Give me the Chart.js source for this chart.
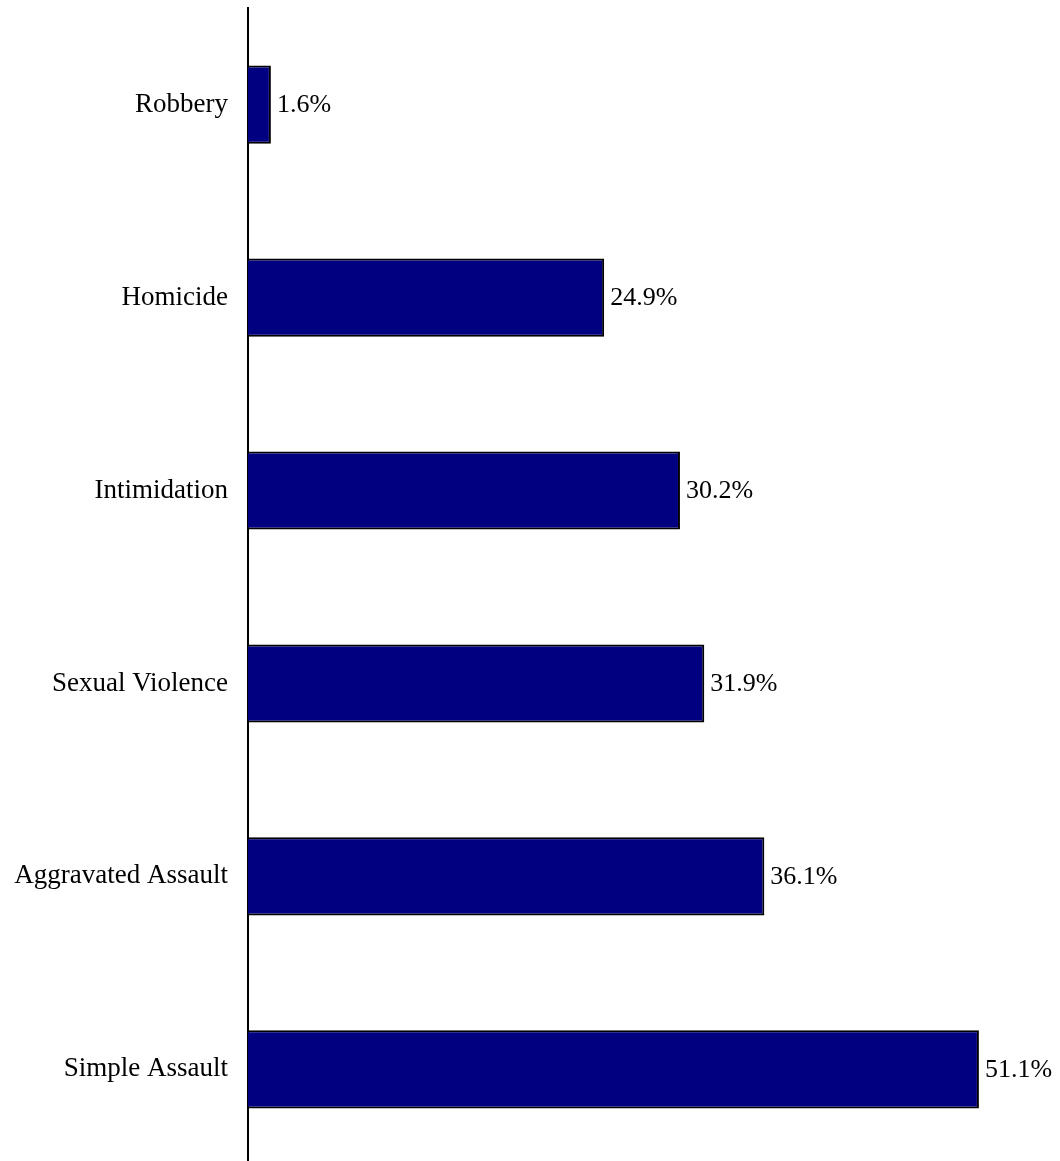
<!DOCTYPE html>
<html>
<head>
<meta charset="utf-8">
<script src="https://cdn.jsdelivr.net/npm/chart.js@4.4.1/dist/chart.umd.min.js"></script>
<style>
  html, body { margin: 0; padding: 0; background: #fff; overflow: hidden; }
  /* canvas shifted up so the plot area runs from y=8 to past the bottom edge */
  #wrap { width: 1060px; height: 1230px; position: absolute; left: 0; top: -28px; }
</style>
</head>
<body>
<div id="wrap"><canvas id="chart"></canvas></div>
<script>
// data
const categories = ['Robbery', 'Homicide', 'Intimidation', 'Sexual Violence', 'Aggravated Assault', 'Simple Assault'];
const percentages = [1.6, 24.9, 30.2, 31.9, 36.1, 51.1];

const FONT = 'Liberation Serif, Times New Roman, serif';

// value labels at bar ends
const valueLabels = {
  id: 'valueLabels',
  afterDatasetsDraw(chart) {
    const ctx = chart.ctx;
    const meta = chart.getDatasetMeta(0);
    ctx.save();
    ctx.font = '26px ' + FONT;
    ctx.fillStyle = '#000';
    ctx.textAlign = 'left';
    ctx.textBaseline = 'middle';
    meta.data.forEach((bar, i) => {
      ctx.fillText(percentages[i].toFixed(1) + '%', bar.x + 6, bar.y + 1);
    });
    ctx.restore();
  }
};

new Chart(document.getElementById('chart'), {
  type: 'bar',
  data: {
    labels: categories,
    datasets: [{
      data: percentages,
      backgroundColor: '#000080',
      borderColor: '#000',
      borderWidth: 2,
      borderSkipped: 'left',
      barPercentage: 0.405,
      categoryPercentage: 1
    }]
  },
  options: {
    indexAxis: 'y',
    responsive: true,
    maintainAspectRatio: false,
    animation: false,
    layout: { padding: { top: 0, right: 11, bottom: 0, left: 0 } },
    plugins: { legend: { display: false }, tooltip: { enabled: false } },
    scales: {
      x: { display: false, min: 0, max: 56 },
      y: {
        grid: { display: false, drawTicks: false },
        border: { display: true, color: '#000', width: 2 },
        ticks: { color: '#000', font: { family: FONT, size: 27 }, padding: 20 },
        afterFit(scale) { scale.width = 248; }
      }
    }
  },
  plugins: [valueLabels]
});
</script>
</body>
</html>
